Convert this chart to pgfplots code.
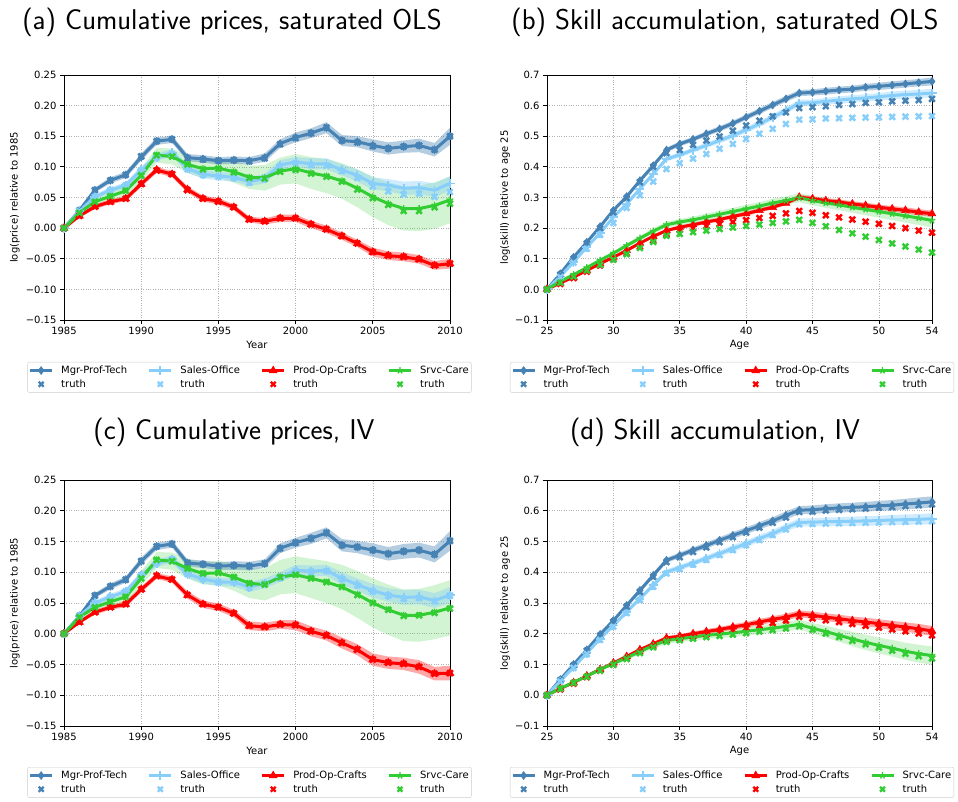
\documentclass[border=0pt]{standalone}
\usepackage{fontspec}
\setmainfont{DejaVu Sans}
\usepackage{pgfplots}
\usepackage{pgfplotstable}
\pgfplotsset{compat=1.18}

\definecolor{cM}{RGB}{70,130,180}
\definecolor{cS}{RGB}{135,206,250}
\definecolor{cP}{RGB}{255,0,0}
\definecolor{cG}{RGB}{50,205,50}

% columns: x, estimate, truth, spread (half-width of the replication fan) for each group
\pgfplotstableread{
x m mt mw s st sw p pt pw g gt gw
1985 0 0 0 0 0 0 0 0 0 0 0 0
1986 0.029 0.029 0.003 0.028 0.028 0.003 0.020 0.020 0.003 0.025 0.025 0.004
1987 0.062 0.062 0.004 0.051 0.051 0.004 0.035 0.035 0.004 0.043 0.043 0.007
1988 0.078 0.078 0.005 0.062 0.062 0.005 0.043 0.043 0.004 0.052 0.052 0.009
1989 0.087 0.087 0.005 0.070 0.070 0.005 0.048 0.048 0.004 0.061 0.061 0.010
1990 0.116 0.117 0.006 0.095 0.094 0.006 0.072 0.072 0.005 0.086 0.086 0.011
1991 0.142 0.142 0.006 0.116 0.115 0.006 0.095 0.094 0.005 0.119 0.119 0.012
1992 0.145 0.145 0.006 0.123 0.121 0.006 0.088 0.088 0.005 0.117 0.117 0.013
1993 0.115 0.114 0.006 0.097 0.096 0.007 0.063 0.062 0.005 0.104 0.104 0.014
1994 0.113 0.112 0.006 0.088 0.087 0.007 0.048 0.048 0.005 0.097 0.096 0.015
1995 0.110 0.110 0.006 0.085 0.084 0.007 0.044 0.043 0.005 0.098 0.097 0.016
1996 0.111 0.111 0.006 0.083 0.082 0.007 0.034 0.034 0.005 0.092 0.091 0.018
1997 0.110 0.109 0.006 0.076 0.074 0.007 0.014 0.014 0.005 0.083 0.082 0.019
1998 0.115 0.114 0.007 0.081 0.080 0.008 0.011 0.011 0.005 0.082 0.081 0.021
1999 0.138 0.137 0.007 0.103 0.101 0.008 0.016 0.016 0.006 0.093 0.092 0.022
2000 0.148 0.147 0.008 0.108 0.106 0.008 0.016 0.016 0.006 0.097 0.095 0.024
2001 0.155 0.155 0.008 0.105 0.103 0.009 0.006 0.006 0.006 0.090 0.089 0.026
2002 0.164 0.164 0.009 0.105 0.102 0.009 -0.002 -0.002 0.006 0.085 0.084 0.028
2003 0.143 0.143 0.009 0.095 0.093 0.009 -0.013 -0.013 0.006 0.077 0.076 0.029
2004 0.141 0.140 0.009 0.086 0.082 0.010 -0.025 -0.025 0.006 0.065 0.063 0.031
2005 0.135 0.134 0.010 0.073 0.068 0.010 -0.039 -0.039 0.007 0.051 0.049 0.033
2006 0.130 0.130 0.010 0.070 0.060 0.010 -0.045 -0.045 0.007 0.040 0.038 0.035
2007 0.133 0.133 0.010 0.065 0.055 0.011 -0.047 -0.047 0.007 0.032 0.028 0.036
2008 0.135 0.135 0.011 0.066 0.056 0.011 -0.051 -0.051 0.007 0.032 0.028 0.037
2009 0.128 0.128 0.011 0.062 0.051 0.011 -0.061 -0.061 0.007 0.037 0.034 0.038
2010 0.150 0.150 0.014 0.073 0.059 0.012 -0.058 -0.058 0.008 0.046 0.040 0.038
}\tabA

\pgfplotstableread{
x m mt mw s st sw p pt pw g gt gw
25 0 0 0 0 0 0 0 0 0 0 0 0
26 0.051 0.048 0.003 0.042 0.040 0.003 0.021 0.018 0.002 0.026 0.022 0.002
27 0.105 0.100 0.004 0.089 0.087 0.004 0.040 0.037 0.003 0.048 0.042 0.003
28 0.154 0.150 0.005 0.138 0.133 0.005 0.062 0.058 0.003 0.071 0.062 0.004
29 0.205 0.200 0.005 0.184 0.178 0.005 0.084 0.078 0.004 0.095 0.080 0.005
30 0.258 0.252 0.006 0.236 0.217 0.006 0.105 0.098 0.004 0.118 0.097 0.006
31 0.303 0.298 0.006 0.279 0.266 0.006 0.127 0.118 0.004 0.143 0.115 0.007
32 0.355 0.350 0.007 0.328 0.307 0.007 0.151 0.140 0.005 0.167 0.135 0.008
33 0.404 0.400 0.007 0.377 0.352 0.007 0.173 0.160 0.005 0.190 0.155 0.009
34 0.455 0.445 0.008 0.426 0.393 0.008 0.192 0.180 0.005 0.211 0.175 0.010
35 0.475 0.455 0.008 0.439 0.412 0.008 0.203 0.195 0.006 0.220 0.181 0.010
36 0.490 0.472 0.008 0.455 0.427 0.008 0.211 0.200 0.006 0.227 0.187 0.011
37 0.508 0.486 0.008 0.470 0.442 0.009 0.220 0.207 0.006 0.236 0.192 0.011
38 0.524 0.499 0.009 0.486 0.459 0.009 0.228 0.213 0.006 0.245 0.197 0.012
39 0.542 0.518 0.009 0.502 0.475 0.009 0.238 0.220 0.006 0.254 0.202 0.012
40 0.562 0.535 0.009 0.521 0.491 0.010 0.247 0.226 0.007 0.263 0.207 0.013
41 0.582 0.551 0.010 0.540 0.508 0.010 0.258 0.233 0.007 0.272 0.212 0.013
42 0.602 0.565 0.010 0.562 0.524 0.010 0.268 0.240 0.007 0.282 0.217 0.014
43 0.622 0.578 0.010 0.584 0.540 0.011 0.282 0.248 0.007 0.290 0.222 0.014
44 0.641 0.592 0.010 0.608 0.554 0.011 0.301 0.256 0.008 0.299 0.227 0.015
45 0.643 0.595 0.010 0.609 0.555 0.011 0.296 0.250 0.008 0.290 0.217 0.015
46 0.647 0.598 0.011 0.614 0.558 0.011 0.290 0.242 0.008 0.282 0.206 0.016
47 0.651 0.602 0.011 0.618 0.559 0.012 0.285 0.235 0.008 0.276 0.194 0.017
48 0.654 0.605 0.011 0.622 0.560 0.012 0.279 0.228 0.009 0.268 0.183 0.018
49 0.660 0.609 0.011 0.625 0.561 0.012 0.274 0.221 0.009 0.261 0.172 0.019
50 0.663 0.611 0.012 0.629 0.562 0.012 0.268 0.214 0.009 0.254 0.161 0.020
51 0.667 0.614 0.012 0.633 0.563 0.013 0.263 0.207 0.009 0.247 0.150 0.021
52 0.671 0.616 0.012 0.636 0.564 0.013 0.258 0.200 0.010 0.240 0.140 0.022
53 0.675 0.618 0.012 0.638 0.565 0.013 0.252 0.192 0.010 0.233 0.130 0.023
54 0.679 0.622 0.013 0.641 0.566 0.014 0.247 0.185 0.010 0.225 0.120 0.024
}\tabB

\pgfplotstableread{
x m mt mw s st sw p pt pw g gt gw
1985 0 0 0 0 0 0 0 0 0 0 0 0
1986 0.029 0.029 0.003 0.029 0.029 0.003 0.019 0.019 0.003 0.027 0.027 0.004
1987 0.062 0.062 0.004 0.050 0.050 0.004 0.035 0.035 0.004 0.043 0.043 0.007
1988 0.077 0.077 0.005 0.060 0.060 0.005 0.043 0.043 0.004 0.052 0.052 0.009
1989 0.088 0.088 0.005 0.069 0.069 0.005 0.048 0.048 0.005 0.060 0.060 0.010
1990 0.118 0.118 0.006 0.095 0.095 0.006 0.072 0.072 0.005 0.090 0.090 0.012
1991 0.142 0.142 0.006 0.115 0.115 0.006 0.094 0.094 0.005 0.120 0.120 0.013
1992 0.146 0.146 0.006 0.121 0.121 0.006 0.088 0.088 0.005 0.118 0.118 0.014
1993 0.115 0.115 0.006 0.097 0.097 0.007 0.063 0.063 0.006 0.106 0.106 0.016
1994 0.113 0.113 0.006 0.089 0.089 0.007 0.048 0.048 0.006 0.098 0.098 0.018
1995 0.110 0.110 0.006 0.084 0.084 0.007 0.043 0.043 0.006 0.099 0.099 0.020
1996 0.111 0.111 0.007 0.084 0.084 0.007 0.033 0.033 0.006 0.092 0.092 0.022
1997 0.110 0.110 0.007 0.076 0.075 0.008 0.013 0.013 0.007 0.082 0.082 0.024
1998 0.114 0.114 0.007 0.082 0.081 0.008 0.011 0.011 0.007 0.080 0.080 0.026
1999 0.139 0.139 0.008 0.092 0.091 0.008 0.015 0.015 0.007 0.092 0.092 0.028
2000 0.148 0.148 0.008 0.103 0.102 0.009 0.014 0.014 0.008 0.096 0.096 0.030
2001 0.155 0.155 0.009 0.102 0.101 0.009 0.004 0.004 0.008 0.090 0.090 0.032
2002 0.164 0.164 0.009 0.103 0.102 0.009 -0.003 -0.003 0.008 0.084 0.084 0.034
2003 0.144 0.144 0.010 0.090 0.089 0.010 -0.015 -0.015 0.009 0.076 0.076 0.036
2004 0.141 0.141 0.010 0.080 0.079 0.010 -0.026 -0.026 0.009 0.064 0.063 0.038
2005 0.136 0.136 0.011 0.070 0.069 0.011 -0.042 -0.042 0.010 0.050 0.050 0.040
2006 0.130 0.130 0.011 0.063 0.062 0.011 -0.047 -0.047 0.010 0.039 0.039 0.041
2007 0.134 0.134 0.012 0.059 0.057 0.012 -0.049 -0.049 0.010 0.030 0.029 0.042
2008 0.136 0.136 0.012 0.060 0.058 0.012 -0.054 -0.054 0.011 0.030 0.030 0.043
2009 0.129 0.129 0.013 0.054 0.053 0.012 -0.065 -0.065 0.011 0.035 0.034 0.044
2010 0.151 0.151 0.016 0.063 0.062 0.013 -0.064 -0.064 0.012 0.042 0.041 0.045
}\tabC

\pgfplotstableread{
x m mt mw s st sw p pt pw g gt gw
25 0 0 0 0 0 0 0 0 0 0 0 0
26 0.051 0.049 0.003 0.046 0.045 0.003 0.022 0.019 0.003 0.022 0.021 0.003
27 0.100 0.097 0.004 0.091 0.089 0.004 0.041 0.038 0.003 0.042 0.040 0.004
28 0.148 0.145 0.005 0.137 0.134 0.005 0.063 0.059 0.004 0.062 0.060 0.005
29 0.198 0.194 0.006 0.184 0.180 0.006 0.084 0.080 0.004 0.084 0.080 0.006
30 0.243 0.239 0.006 0.227 0.223 0.006 0.105 0.100 0.005 0.103 0.099 0.007
31 0.292 0.288 0.007 0.271 0.267 0.007 0.126 0.120 0.005 0.122 0.118 0.008
32 0.341 0.336 0.007 0.314 0.310 0.007 0.148 0.141 0.006 0.142 0.137 0.009
33 0.390 0.385 0.008 0.358 0.353 0.008 0.167 0.160 0.006 0.162 0.156 0.010
34 0.439 0.433 0.008 0.401 0.396 0.008 0.186 0.178 0.006 0.178 0.174 0.011
35 0.455 0.449 0.009 0.415 0.410 0.009 0.192 0.184 0.007 0.184 0.179 0.011
36 0.472 0.466 0.009 0.430 0.425 0.009 0.200 0.191 0.007 0.189 0.184 0.012
37 0.487 0.481 0.010 0.445 0.440 0.010 0.207 0.198 0.008 0.195 0.189 0.012
38 0.504 0.498 0.010 0.461 0.456 0.010 0.214 0.205 0.008 0.199 0.193 0.013
39 0.520 0.514 0.011 0.477 0.472 0.011 0.222 0.212 0.009 0.203 0.197 0.013
40 0.535 0.529 0.011 0.493 0.488 0.011 0.229 0.219 0.009 0.208 0.202 0.014
41 0.551 0.545 0.012 0.510 0.505 0.011 0.238 0.227 0.010 0.213 0.207 0.014
42 0.567 0.561 0.012 0.526 0.521 0.012 0.247 0.235 0.010 0.218 0.212 0.015
43 0.585 0.578 0.013 0.545 0.539 0.012 0.254 0.243 0.011 0.224 0.217 0.015
44 0.602 0.596 0.013 0.562 0.556 0.013 0.265 0.255 0.011 0.230 0.224 0.016
45 0.603 0.597 0.014 0.563 0.557 0.013 0.260 0.250 0.012 0.218 0.213 0.017
46 0.607 0.601 0.014 0.564 0.558 0.014 0.254 0.244 0.012 0.207 0.201 0.019
47 0.609 0.603 0.015 0.565 0.559 0.014 0.249 0.238 0.013 0.195 0.189 0.021
48 0.611 0.605 0.015 0.566 0.560 0.015 0.243 0.232 0.013 0.183 0.177 0.023
49 0.613 0.607 0.016 0.567 0.561 0.015 0.238 0.226 0.014 0.172 0.166 0.025
50 0.616 0.610 0.016 0.568 0.562 0.016 0.233 0.220 0.014 0.162 0.155 0.026
51 0.618 0.612 0.017 0.570 0.563 0.016 0.227 0.214 0.015 0.153 0.145 0.027
52 0.622 0.615 0.017 0.571 0.564 0.017 0.222 0.208 0.015 0.143 0.135 0.028
53 0.625 0.618 0.018 0.572 0.565 0.017 0.216 0.201 0.016 0.135 0.127 0.029
54 0.629 0.621 0.018 0.574 0.566 0.018 0.209 0.195 0.016 0.129 0.120 0.030
}\tabD

% spread band (estimate +- half-width) drawn with stacked plots:
% table, estimate col, half-width col, colour, opacity
\newcommand{\band}[5]{%
  \addplot[draw=none, stack plots=y, forget plot] table[x=x, y expr=\thisrow{#2}-\thisrow{#3}] {#1};
  \addplot[draw=none, fill=#4, fill opacity=#5, stack plots=y, forget plot] table[x=x, y expr=2*\thisrow{#3}] {#1} \closedcycle;
  \addplot[draw=none, stack plots=y, forget plot] table[x=x, y expr=-\thisrow{#2}-\thisrow{#3}] {#1};
}
\newcommand{\series}[1]{%
  \band{#1}{g}{gw}{cG}{0.22}
  \band{#1}{m}{mw}{cM}{0.4}
  \band{#1}{s}{sw}{cS}{0.4}
  \band{#1}{p}{pw}{cP}{0.35}
  \addplot[cM, line width=3pt, mark=diamond*, mark size=4pt, mark options={solid,line width=0.5pt}, forget plot] table[x=x,y=m] {#1};
  \addplot[cS, line width=3pt, mark=+, mark size=4.5pt, mark options={solid,line width=1.8pt}, forget plot] table[x=x,y=s] {#1};
  \addplot[cP, line width=3pt, mark=triangle*, mark size=4.5pt, mark options={solid,line width=0.5pt}, forget plot] table[x=x,y=p] {#1};
  \addplot[cG, line width=3pt, mark=star, mark size=3.5pt, mark options={solid,line width=1.3pt}, forget plot] table[x=x,y=g] {#1};
  \addplot[cM, only marks, mark=x, mark size=4pt, line width=2.5pt, forget plot] table[x=x,y=mt] {#1};
  \addplot[cS, only marks, mark=x, mark size=4pt, line width=2.5pt, forget plot] table[x=x,y=st] {#1};
  \addplot[cP, only marks, mark=x, mark size=4pt, line width=2.5pt, forget plot] table[x=x,y=pt] {#1};
  \addplot[cG, only marks, mark=x, mark size=4pt, line width=2.5pt, forget plot] table[x=x,y=gt] {#1};
}
\newcommand{\legendentries}{%
  \addlegendimage{cM, line width=3pt, mark=diamond*, mark size=4pt, mark options={solid,line width=0.5pt}}
  \addlegendentry{Mgr-Prof-Tech}
  \addlegendimage{cS, line width=3pt, mark=+, mark size=4.5pt, mark options={solid,line width=1.8pt}}
  \addlegendentry{Sales-Office}
  \addlegendimage{cP, line width=3pt, mark=triangle*, mark size=4.5pt, mark options={solid,line width=0.5pt}}
  \addlegendentry{Prod-Op-Crafts}
  \addlegendimage{cG, line width=3pt, mark=star, mark size=3.5pt, mark options={solid,line width=1.3pt}}
  \addlegendentry{Srvc-Care}
  \addlegendimage{cM, only marks, mark=x, mark size=3.5pt, line width=2.3pt}
  \addlegendentry{truth}
  \addlegendimage{cS, only marks, mark=x, mark size=3.5pt, line width=2.3pt}
  \addlegendentry{truth}
  \addlegendimage{cP, only marks, mark=x, mark size=3.5pt, line width=2.3pt}
  \addlegendentry{truth}
  \addlegendimage{cG, only marks, mark=x, mark size=3.5pt, line width=2.3pt}
  \addlegendentry{truth}
}

\pgfplotsset{
  panel/.style={
    scale only axis, anchor=south west,
    axis line style={line width=0.8pt, black},
    tick align=outside, xtick pos=left, ytick pos=left,
    major tick length=4pt, tick style={black, line width=0.8pt},
    grid=major, grid style={dotted, black!30, line width=0.6pt},
    tick label style={font=\fontsize{10}{12}\selectfont},
    label style={font=\fontsize{10}{12}\selectfont},
    xlabel style={at={(axis description cs:0.5,-0.102)}, anchor=center},
    legend columns=4,
    legend cell align=left,
    legend image code/.code={\draw[mark repeat=2,mark phase=2,##1] plot coordinates {(0pt,0pt) (11pt,0pt) (22pt,0pt)};},
    legend style={anchor=north, draw=black!20, rounded corners=2pt,
      font=\fontsize{10}{12}\selectfont, inner xsep=1pt, inner ysep=1.5pt,
      nodes={inner xsep=1.6pt, inner ysep=2.3pt},
      /tikz/every odd column/.append style={column sep=6pt},
      /tikz/every even column/.append style={column sep=19pt}},
  },
  yearpanel/.style={panel,
    width=386pt,
    xmin=1985, xmax=2010, ymin=-0.15, ymax=0.25,
    xtick={1985,1990,1995,2000,2005,2010},
    xticklabels={1985,1990,1995,2000,2005,2010},
    ytick={-0.15,-0.10,-0.05,0,0.05,0.10,0.15,0.20,0.25},
    yticklabels={−0.15,−0.10,−0.05,0.00,0.05,0.10,0.15,0.20,0.25},
    xlabel={Year}, ylabel={log(price) relative to 1985},
    ylabel style={at={(axis description cs:-0.127,0.5)}, anchor=center},
  },
  agepanel/.style={panel,
    width=385pt,
    xmin=25, xmax=54, ymin=-0.1, ymax=0.7,
    xtick={25,30,35,40,45,50,54},
    xticklabels={25,30,35,40,45,50,54},
    ytick={-0.1,0,0.1,0.2,0.3,0.4,0.5,0.6,0.7},
    yticklabels={−0.1,0.0,0.1,0.2,0.3,0.4,0.5,0.6,0.7},
    xlabel={Age}, ylabel={log(skill) relative to age 25},
    ylabel style={at={(axis description cs:-0.109,0.5)}, anchor=center},
  },
}

\begin{document}
\begin{tikzpicture}
\useasboundingbox (0pt,0pt) rectangle (958pt,802pt);

\begin{axis}[yearpanel, at={(64pt,482pt)}, height=245pt,
  legend style={at={(axis description cs:0.4806,-0.1714)}}]
\legendentries
\series{\tabA}
\end{axis}

\begin{axis}[agepanel, at={(547pt,482pt)}, height=245pt,
  legend style={at={(axis description cs:0.4805,-0.1714)}}]
\legendentries
\series{\tabB}
\end{axis}

\begin{axis}[yearpanel, at={(64pt,76pt)}, height=246pt,
  legend style={at={(axis description cs:0.4806,-0.1667)}}]
\legendentries
\series{\tabC}
\end{axis}

\begin{axis}[agepanel, at={(547pt,76pt)}, height=246pt,
  legend style={at={(axis description cs:0.4805,-0.1667)}}]
\legendentries
\series{\tabD}
\end{axis}

\node[font=\sffamily\fontsize{28.6}{33}\selectfont] at (232pt,780pt) {(a) Cumulative prices, saturated OLS};
\node[font=\sffamily\fontsize{28.6}{33}\selectfont] at (725pt,780pt) {(b) Skill accumulation, saturated OLS};
\node[font=\sffamily\fontsize{28.6}{33}\selectfont] at (234pt,370pt) {(c) Cumulative prices, IV};
\node[font=\sffamily\fontsize{28.6}{33}\selectfont] at (715pt,370pt) {(d) Skill accumulation, IV};
\end{tikzpicture}
\end{document}
